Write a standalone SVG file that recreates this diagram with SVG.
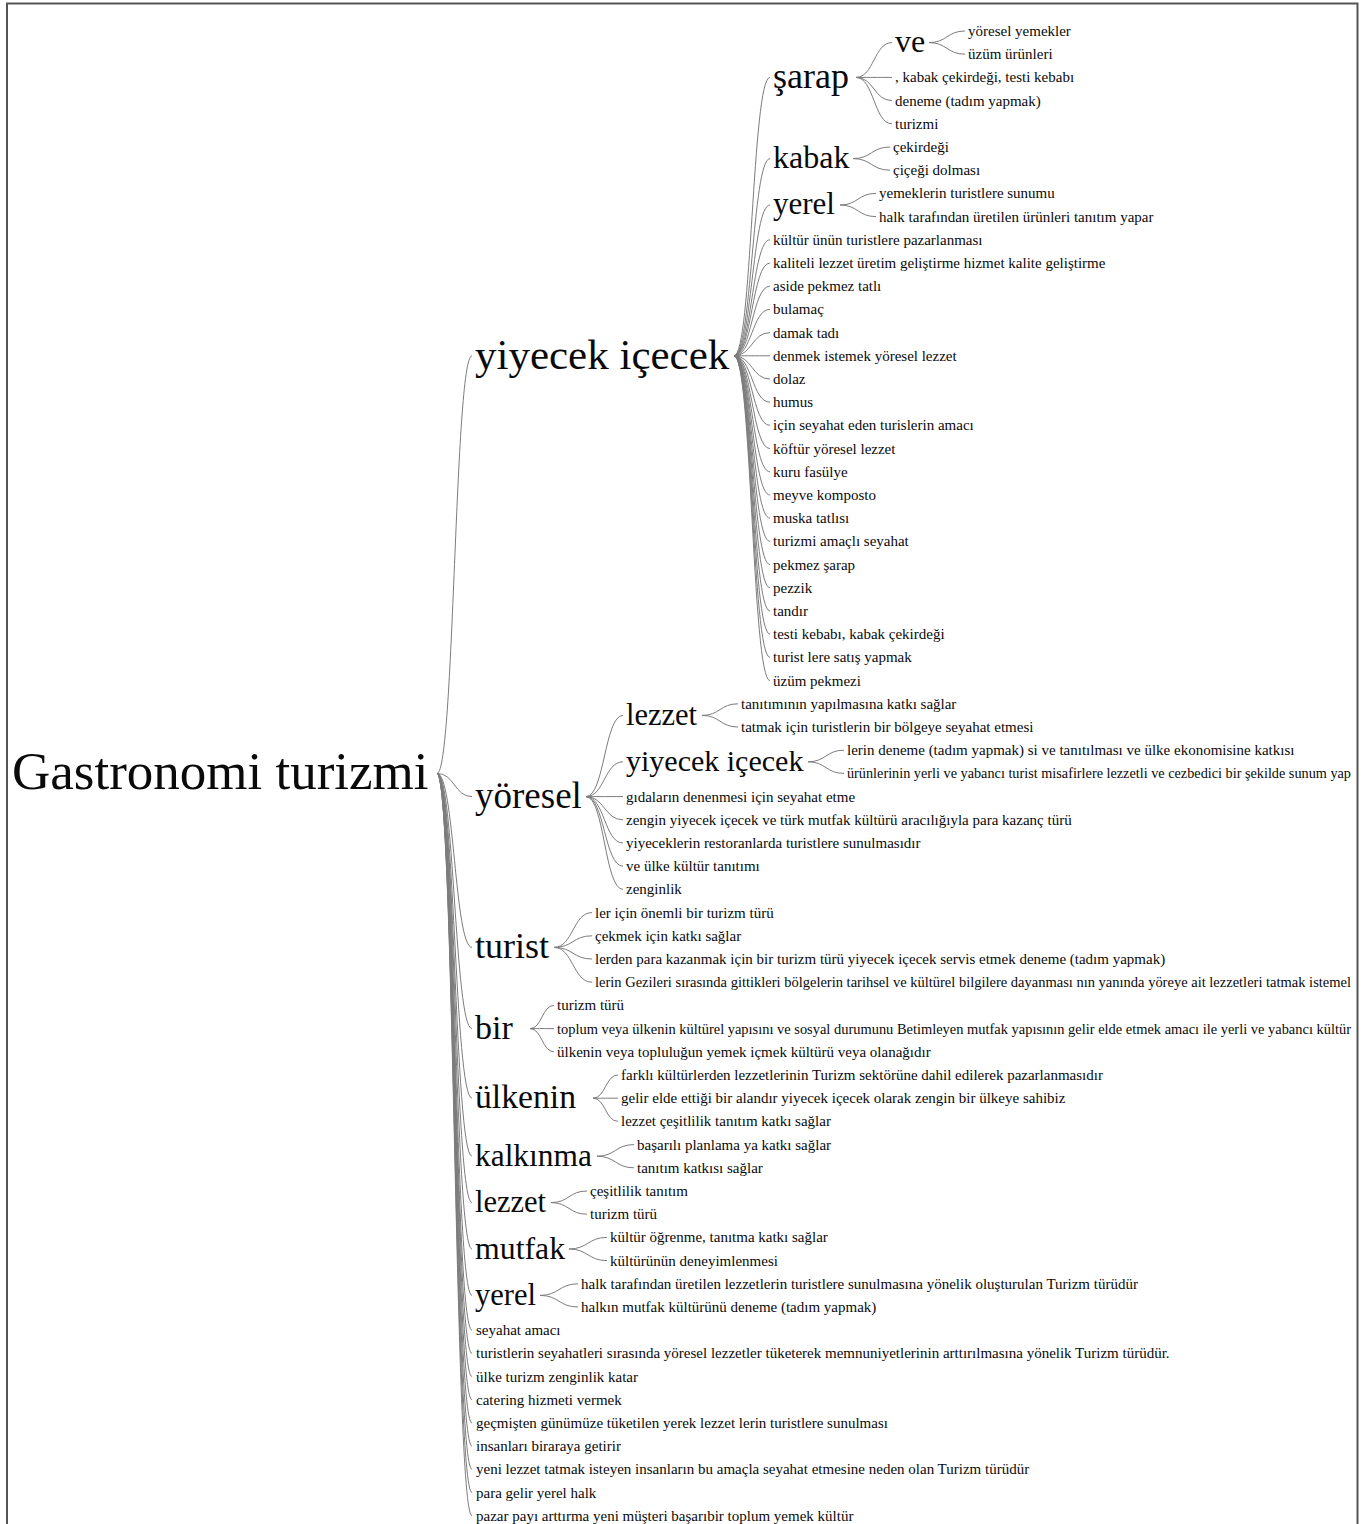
<svg xmlns="http://www.w3.org/2000/svg" width="1370" height="1524" viewBox="0 0 1370 1524">
<style>
text{font-family:"Liberation Serif","Times New Roman",serif;fill:#0a0a0a}
.l{font-size:15px}
.c{fill:none;stroke:#7c7c7c;stroke-width:1}
</style>
<rect width="1370" height="1524" fill="#fff"/>
<g id="diagram">
<g id="connectors">
<path class="c" d="M437 773.4C454.5 773.4 454.5 355.8 472 355.8M437 773.4C454.5 773.4 454.5 796.6 472 796.6M437 773.4C454.5 773.4 454.5 947.4 472 947.4M437 773.4C454.5 773.4 454.5 1028.6 472 1028.6M437 773.4C454.5 773.4 454.5 1098.2 472 1098.2M437 773.4C454.5 773.4 454.5 1156.2 472 1156.2M437 773.4C454.5 773.4 454.5 1202.6 472 1202.6M437 773.4C454.5 773.4 454.5 1249 472 1249M437 773.4C454.5 773.4 454.5 1295.4 472 1295.4M437 773.4C454.5 773.4 454.5 1330.2 472 1330.2M437 773.4C454.5 773.4 454.5 1353.4 472 1353.4M437 773.4C454.5 773.4 454.5 1376.6 472 1376.6M437 773.4C454.5 773.4 454.5 1399.8 472 1399.8M437 773.4C454.5 773.4 454.5 1423 472 1423M437 773.4C454.5 773.4 454.5 1446.2 472 1446.2M437 773.4C454.5 773.4 454.5 1469.4 472 1469.4M437 773.4C454.5 773.4 454.5 1492.6 472 1492.6M437 773.4C454.5 773.4 454.5 1515.8 472 1515.8"/>
<path class="c" d="M734 355.8C752 355.8 752 77.4 770 77.4M734 355.8C752 355.8 752 158.6 770 158.6M734 355.8C752 355.8 752 205 770 205M734 355.8C752 355.8 752 239.8 770 239.8M734 355.8C752 355.8 752 263 770 263M734 355.8C752 355.8 752 286.2 770 286.2M734 355.8C752 355.8 752 309.4 770 309.4M734 355.8C752 355.8 752 332.6 770 332.6M734 355.8C752 355.8 752 355.8 770 355.8M734 355.8C752 355.8 752 379 770 379M734 355.8C752 355.8 752 402.2 770 402.2M734 355.8C752 355.8 752 425.4 770 425.4M734 355.8C752 355.8 752 448.6 770 448.6M734 355.8C752 355.8 752 471.8 770 471.8M734 355.8C752 355.8 752 495 770 495M734 355.8C752 355.8 752 518.2 770 518.2M734 355.8C752 355.8 752 541.4 770 541.4M734 355.8C752 355.8 752 564.6 770 564.6M734 355.8C752 355.8 752 587.8 770 587.8M734 355.8C752 355.8 752 611 770 611M734 355.8C752 355.8 752 634.2 770 634.2M734 355.8C752 355.8 752 657.4 770 657.4M734 355.8C752 355.8 752 680.6 770 680.6"/>
<path class="c" d="M856 77.4C874 77.4 874 42.6 892 42.6M856 77.4C874 77.4 874 77.4 892 77.4M856 77.4C874 77.4 874 100.6 892 100.6M856 77.4C874 77.4 874 123.8 892 123.8"/>
<path class="c" d="M929 42.6C947 42.6 947 31 965 31M929 42.6C947 42.6 947 54.2 965 54.2"/>
<path class="c" d="M853 158.6C871.5 158.6 871.5 147 890 147M853 158.6C871.5 158.6 871.5 170.2 890 170.2"/>
<path class="c" d="M840 205C858 205 858 193.4 876 193.4M840 205C858 205 858 216.6 876 216.6"/>
<path class="c" d="M586 796.6C604.5 796.6 604.5 715.4 623 715.4M586 796.6C604.5 796.6 604.5 761.8 623 761.8M586 796.6C604.5 796.6 604.5 796.6 623 796.6M586 796.6C604.5 796.6 604.5 819.8 623 819.8M586 796.6C604.5 796.6 604.5 843 623 843M586 796.6C604.5 796.6 604.5 866.2 623 866.2M586 796.6C604.5 796.6 604.5 889.4 623 889.4"/>
<path class="c" d="M702 715.4C720 715.4 720 703.8 738 703.8M702 715.4C720 715.4 720 727 738 727"/>
<path class="c" d="M808 761.8C826 761.8 826 750.2 844 750.2M808 761.8C826 761.8 826 773.4 844 773.4"/>
<path class="c" d="M554 947.4C573 947.4 573 912.6 592 912.6M554 947.4C573 947.4 573 935.8 592 935.8M554 947.4C573 947.4 573 959 592 959M554 947.4C573 947.4 573 982.2 592 982.2"/>
<path class="c" d="M530 1028.6C542 1028.6 542 1005.4 554 1005.4M530 1028.6C542 1028.6 542 1028.6 554 1028.6M530 1028.6C542 1028.6 542 1051.8 554 1051.8"/>
<path class="c" d="M593 1098.2C605.5 1098.2 605.5 1075 618 1075M593 1098.2C605.5 1098.2 605.5 1098.2 618 1098.2M593 1098.2C605.5 1098.2 605.5 1121.4 618 1121.4"/>
<path class="c" d="M597 1156.2C615.5 1156.2 615.5 1144.6 634 1144.6M597 1156.2C615.5 1156.2 615.5 1167.8 634 1167.8"/>
<path class="c" d="M551 1202.6C569 1202.6 569 1191 587 1191M551 1202.6C569 1202.6 569 1214.2 587 1214.2"/>
<path class="c" d="M569 1249C588 1249 588 1237.4 607 1237.4M569 1249C588 1249 588 1260.6 607 1260.6"/>
<path class="c" d="M540 1295.4C559 1295.4 559 1283.8 578 1283.8M540 1295.4C559 1295.4 559 1307 578 1307"/>
</g>

<g id="root"><text x="12" y="789.3" font-size="53">Gastronomi turizmi</text></g>

<g id="n-yiyecek-icecek"><text x="475" y="368.7" font-size="43">yiyecek içecek</text></g>
<g id="n-sarap"><text x="773" y="88.2" font-size="36">şarap</text></g>
<g id="n-ve"><text x="895" y="52.2" font-size="32">ve</text></g>
<g id="n-ve-leaves"><text class="l" x="968" y="36">yöresel yemekler</text><text class="l" x="968" y="59.2">üzüm ürünleri</text></g>
<g id="n-sarap-leaves"><text class="l" x="895" y="82.4">, kabak çekirdeği, testi kebabı</text><text class="l" x="895" y="105.6">deneme (tadım yapmak)</text><text class="l" x="895" y="128.8">turizmi</text></g>
<g id="n-kabak"><text x="773" y="168.2" font-size="32">kabak</text></g>
<g id="n-kabak-leaves"><text class="l" x="893" y="152">çekirdeği</text><text class="l" x="893" y="175.2">çiçeği dolması</text></g>
<g id="n-yerel1"><text x="773" y="214.3" font-size="31">yerel</text></g>
<g id="n-yerel1-leaves"><text class="l" x="879" y="198.4">yemeklerin turistlere sunumu</text><text class="l" x="879" y="221.6">halk tarafından üretilen ürünleri tanıtım yapar</text></g>
<g id="n-yiyecek-leaves">
<text class="l" x="773" y="244.8">kültür ünün turistlere pazarlanması</text>
<text class="l" x="773" y="268">kaliteli lezzet üretim geliştirme hizmet kalite geliştirme</text>
<text class="l" x="773" y="291.2">aside pekmez tatlı</text>
<text class="l" x="773" y="314.4">bulamaç</text>
<text class="l" x="773" y="337.6">damak tadı</text>
<text class="l" x="773" y="360.8">denmek istemek yöresel lezzet</text>
<text class="l" x="773" y="384">dolaz</text>
<text class="l" x="773" y="407.2">humus</text>
<text class="l" x="773" y="430.4">için seyahat eden turislerin amacı</text>
<text class="l" x="773" y="453.6">köftür yöresel lezzet</text>
<text class="l" x="773" y="476.8">kuru fasülye</text>
<text class="l" x="773" y="500">meyve komposto</text>
<text class="l" x="773" y="523.2">muska tatlısı</text>
<text class="l" x="773" y="546.4">turizmi amaçlı seyahat</text>
<text class="l" x="773" y="569.6">pekmez şarap</text>
<text class="l" x="773" y="592.8">pezzik</text>
<text class="l" x="773" y="616">tandır</text>
<text class="l" x="773" y="639.2">testi kebabı, kabak çekirdeği</text>
<text class="l" x="773" y="662.4">turist lere satış yapmak</text>
<text class="l" x="773" y="685.6">üzüm pekmezi</text>
</g>

<g id="n-yoresel"><text x="475" y="807.7" font-size="37">yöresel</text></g>
<g id="n-lezzet1"><text x="626" y="724.6" font-size="30.5">lezzet</text></g>
<g id="n-lezzet1-leaves"><text class="l" x="741" y="708.8">tanıtımının yapılmasına katkı sağlar</text><text class="l" x="741" y="732">tatmak için turistlerin bir bölgeye seyahat etmesi</text></g>
<g id="n-yiyecek2"><text x="626" y="770.8" font-size="30">yiyecek içecek</text></g>
<g id="n-yiyecek2-leaves"><text class="l" x="847" y="755.2">lerin deneme (tadım yapmak) si ve tanıtılması ve ülke ekonomisine katkısı</text><text class="l" x="847" y="778.4" textLength="504" lengthAdjust="spacingAndGlyphs">ürünlerinin yerli ve yabancı turist misafirlere lezzetli ve cezbedici bir şekilde sunum yap</text></g>
<g id="n-yoresel-leaves">
<text class="l" x="626" y="801.6">gıdaların denenmesi için seyahat etme</text>
<text class="l" x="626" y="824.8">zengin yiyecek içecek ve türk mutfak kültürü aracılığıyla para kazanç türü</text>
<text class="l" x="626" y="848">yiyeceklerin restoranlarda turistlere sunulmasıdır</text>
<text class="l" x="626" y="871.2">ve ülke kültür tanıtımı</text>
<text class="l" x="626" y="894.4">zenginlik</text>
</g>

<g id="n-turist"><text x="475" y="958.2" font-size="36">turist</text></g>
<g id="n-turist-leaves">
<text class="l" x="595" y="917.6">ler için önemli bir turizm türü</text>
<text class="l" x="595" y="940.8">çekmek için katkı sağlar</text>
<text class="l" x="595" y="964">lerden para kazanmak için bir turizm türü yiyecek içecek servis etmek deneme (tadım yapmak)</text>
<text class="l" x="595" y="987.2" textLength="756" lengthAdjust="spacingAndGlyphs">lerin Gezileri sırasında gittikleri bölgelerin tarihsel ve kültürel bilgilere dayanması nın yanında yöreye ait lezzetleri tatmak istemel</text>
</g>

<g id="n-bir"><text x="475" y="1038.8" font-size="34">bir</text></g>
<g id="n-bir-leaves">
<text class="l" x="557" y="1010.4">turizm türü</text>
<text class="l" x="557" y="1033.6" textLength="794" lengthAdjust="spacingAndGlyphs">toplum veya ülkenin kültürel yapısını ve sosyal durumunu Betimleyen mutfak yapısının gelir elde etmek amacı ile yerli ve yabancı kültür</text>
<text class="l" x="557" y="1056.8">ülkenin veya topluluğun yemek içmek kültürü veya olanağıdır</text>
</g>

<g id="n-ulkenin"><text x="475" y="1108.3" font-size="33.7">ülkenin</text></g>
<g id="n-ulkenin-leaves">
<text class="l" x="621" y="1080">farklı kültürlerden lezzetlerinin Turizm sektörüne dahil edilerek pazarlanmasıdır</text>
<text class="l" x="621" y="1103.2">gelir elde ettiği bir alandır yiyecek içecek olarak zengin bir ülkeye sahibiz</text>
<text class="l" x="621" y="1126.4">lezzet çeşitlilik tanıtım katkı sağlar</text>
</g>

<g id="n-kalkinma"><text x="475" y="1165.6" font-size="31.4">kalkınma</text></g>
<g id="n-kalkinma-leaves"><text class="l" x="637" y="1149.6">başarılı planlama ya katkı sağlar</text><text class="l" x="637" y="1172.8">tanıtım katkısı sağlar</text></g>

<g id="n-lezzet2"><text x="475" y="1211.8" font-size="30.5">lezzet</text></g>
<g id="n-lezzet2-leaves"><text class="l" x="590" y="1196">çeşitlilik tanıtım</text><text class="l" x="590" y="1219.2">turizm türü</text></g>

<g id="n-mutfak"><text x="475" y="1258.5" font-size="31.8">mutfak</text></g>
<g id="n-mutfak-leaves"><text class="l" x="610" y="1242.4">kültür öğrenme, tanıtma katkı sağlar</text><text class="l" x="610" y="1265.6">kültürünün deneyimlenmesi</text></g>

<g id="n-yerel2"><text x="475" y="1304.6" font-size="30.5">yerel</text></g>
<g id="n-yerel2-leaves"><text class="l" x="581" y="1288.8">halk tarafından üretilen lezzetlerin turistlere sunulmasına yönelik oluşturulan Turizm türüdür</text><text class="l" x="581" y="1312">halkın mutfak kültürünü deneme (tadım yapmak)</text></g>

<g id="root-leaves">
<text class="l" x="476" y="1335.2">seyahat amacı</text>
<text class="l" x="476" y="1358.4">turistlerin seyahatleri sırasında yöresel lezzetler tüketerek memnuniyetlerinin arttırılmasına yönelik Turizm türüdür.</text>
<text class="l" x="476" y="1381.6">ülke turizm zenginlik katar</text>
<text class="l" x="476" y="1404.8">catering hizmeti vermek</text>
<text class="l" x="476" y="1428">geçmişten günümüze tüketilen yerek lezzet lerin turistlere sunulması</text>
<text class="l" x="476" y="1451.2">insanları biraraya getirir</text>
<text class="l" x="476" y="1474.4">yeni lezzet tatmak isteyen insanların bu amaçla seyahat etmesine neden olan Turizm türüdür</text>
<text class="l" x="476" y="1497.6">para gelir yerel halk</text>
<text class="l" x="476" y="1520.8">pazar payı arttırma yeni müşteri başarıbir toplum yemek kültür</text>
</g>
</g>
<path id="frame" d="M7 1524V3.5H1357.5V1524" fill="none" stroke="#555" stroke-width="2"/>
</svg>
